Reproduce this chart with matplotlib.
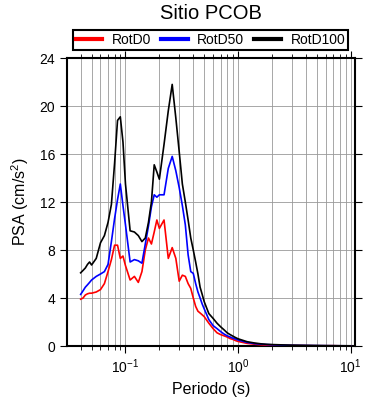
import matplotlib
matplotlib.use('Agg')
import matplotlib.pyplot as plt
from matplotlib.ticker import LogLocator, FixedLocator, NullFormatter

plt.rcParams['font.family'] = ['Liberation Sans', 'DejaVu Sans']
plt.rcParams['mathtext.fontset'] = 'custom'
plt.rcParams['mathtext.rm'] = 'Liberation Sans'

# Periods (s)
periods = [0.04, 0.042, 0.044, 0.046, 0.048, 0.05, 0.055, 0.06, 0.065, 0.07,
           0.075, 0.08, 0.085, 0.09, 0.095, 0.1, 0.11, 0.12, 0.13, 0.14,
           0.15, 0.16, 0.17, 0.18, 0.19, 0.2, 0.22, 0.24, 0.26, 0.28,
           0.3, 0.32, 0.34, 0.36, 0.38, 0.4, 0.42, 0.44, 0.46, 0.48,
           0.5, 0.55, 0.6, 0.65, 0.7, 0.75, 0.8, 0.85, 0.9, 0.95,
           1.0, 1.2, 1.4, 1.6, 1.8, 2.0, 2.5, 3.0, 4.0, 5.0,
           6.0, 7.0, 8.0, 10.0]

# PSA (cm/s^2)
rotd0 = [3.9, 4.0, 4.25, 4.35, 4.4, 4.4, 4.5, 4.7, 5.2, 6.2,
         7.2, 8.4, 8.4, 7.3, 7.5, 6.7, 5.5, 5.8, 5.3, 6.2,
         8.0, 9.0, 8.5, 9.5, 10.5, 9.8, 10.5, 7.3, 8.2, 7.3,
         5.4, 5.9, 5.8, 5.2, 4.8, 4.0, 3.3, 2.9, 2.75, 2.6,
         2.45, 1.9, 1.45, 1.1, 0.95, 0.85, 0.75, 0.62, 0.55, 0.45,
         0.38, 0.22, 0.15, 0.10, 0.07, 0.05, 0.03, 0.04, 0.03, 0.02,
         0.02, 0.025, 0.015, 0.01]

rotd50 = [4.3, 4.6, 4.9, 5.1, 5.3, 5.5, 5.8, 6.0, 6.2, 6.8,
          8.7, 10.6, 12.2, 13.5, 11.7, 10.1, 7.0, 7.2, 7.1, 6.9,
          8.5, 10.0, 11.6, 12.6, 12.4, 12.6, 12.6, 14.8, 15.8, 14.6,
          13.2, 11.7, 10.1, 7.6, 6.2, 6.05, 5.2, 4.5, 4.0, 3.5,
          3.1, 2.2, 1.7, 1.45, 1.2, 1.0, 0.85, 0.75, 0.65, 0.58,
          0.5, 0.3, 0.2, 0.15, 0.12, 0.10, 0.07, 0.05, 0.04, 0.03,
          0.025, 0.02, 0.018, 0.012]

rotd100 = [6.1, 6.3, 6.5, 6.8, 7.0, 6.75, 7.3, 8.6, 9.2, 10.3,
           11.8, 15.2, 18.8, 19.1, 17.0, 13.5, 9.6, 9.5, 9.2, 8.7,
           9.0, 10.3, 12.0, 15.1, 14.5, 13.9, 16.8, 19.6, 21.8, 19.0,
           16.2, 13.5, 12.0, 10.5, 9.0, 8.0, 7.0, 6.0, 4.9, 4.3,
           3.7, 2.7, 2.3, 1.9, 1.6, 1.35, 1.1, 0.95, 0.82, 0.7,
           0.6, 0.36, 0.25, 0.18, 0.14, 0.12, 0.09, 0.07, 0.05, 0.04,
           0.03, 0.025, 0.02, 0.015]

series = [('RotD0', rotd0, 'red'), ('RotD50', rotd50, 'blue'), ('RotD100', rotd100, 'black')]
y_ticks = [0, 4, 8, 12, 16, 20, 24]

fig = plt.figure(figsize=(3.9, 4.0), dpi=100)
ax = fig.add_axes([0.172, 0.135, 0.738, 0.72])

for name, vals, col in series:
    ax.plot(periods, vals, color=col, lw=1.2, label=name, zorder=3)

ax.set_xscale('log')
ax.set_xlim(0.0303, 10.9)
ax.set_ylim(0, 24)
ax.yaxis.set_major_locator(FixedLocator(y_ticks))
ax.xaxis.set_major_locator(LogLocator(base=10))
ax.xaxis.set_minor_locator(LogLocator(base=10, subs=range(2, 10)))
ax.xaxis.set_minor_formatter(NullFormatter())
ax.set_xticks([0.1, 1, 10])
ax.set_xticklabels([r'$\mathregular{10^{-1}}$', r'$\mathregular{10^{0}}$', r'$\mathregular{10^{1}}$'])

ax.grid(True, which='both', axis='x', color='#999999', lw=0.6)
ax.grid(True, which='major', axis='y', color='#999999', lw=0.6)

for s in ax.spines.values():
    s.set_linewidth(1.5)
ax.tick_params(which='major', direction='out', length=5, width=0.8, labelsize=10,
               top=True, right=True, labeltop=False, labelright=False)
ax.tick_params(which='minor', direction='out', length=3, width=0.6,
               top=True, right=False)

ax.set_xlabel('Periodo (s)', fontsize=11.5, labelpad=4)
ax.set_ylabel(r'PSA (cm/s$\mathregular{^2}$)', fontsize=11.5, labelpad=6)
ax.set_title('Sitio PCOB', fontsize=14.5, pad=28)

leg = ax.legend(loc='lower left', bbox_to_anchor=(0.021, 1.028, 0.955, 0.076),
                mode='expand', ncol=3, fancybox=False, framealpha=1,
                edgecolor='black', fontsize=10, handlelength=1.9,
                borderaxespad=0, borderpad=0.2, handletextpad=0.7, columnspacing=1.0)
leg.get_frame().set_linewidth(1.5)
for line in leg.get_lines():
    line.set_linewidth(3)

fig.savefig('out.png', dpi=100)
